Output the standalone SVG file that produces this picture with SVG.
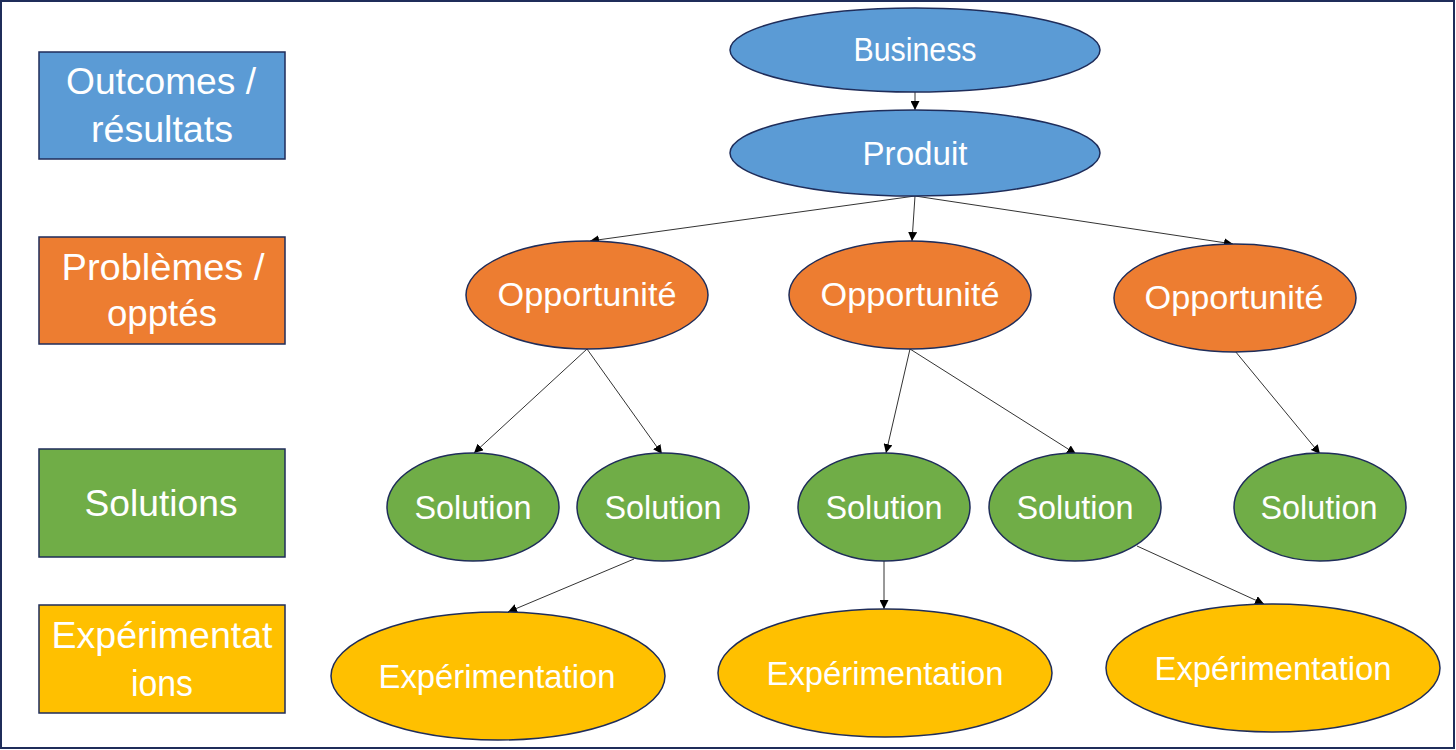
<svg xmlns="http://www.w3.org/2000/svg" width="1456" height="750" viewBox="0 0 1456 750">
<style>
.bg{fill:#fff;stroke:#1f2d5a;stroke-width:2}
.blue{fill:#5b9bd5;stroke:#1f2d5a;stroke-width:1.5}
.orange{fill:#ed7d31;stroke:#1f2d5a;stroke-width:1.5}
.green{fill:#70ad47;stroke:#1f2d5a;stroke-width:1.5}
.yellow{fill:#ffc000;stroke:#1f2d5a;stroke-width:1.5}
text{font-family:"Liberation Sans","Open Sans",sans-serif;fill:#fff;text-anchor:middle}
.lbl{font-size:36px}
.nd{font-size:33px}
.conn line{stroke:#333;stroke-width:1;marker-end:url(#arr)}
</style>
<defs>
<marker id="arr" viewBox="0 0 10 10" refX="10" refY="5" markerWidth="9" markerHeight="9" markerUnits="userSpaceOnUse" orient="auto">
<path d="M0,0 L10,5 L0,10 z" fill="#000"/>
</marker>
</defs>
<rect class="bg" x="1" y="1" width="1453" height="747"/>

<g id="label-outcomes"><rect class="blue" x="39" y="52" width="246" height="107"/>
<text class="lbl" x="161" y="94" textLength="190" lengthAdjust="spacingAndGlyphs">Outcomes /</text>
<text class="lbl" x="162" y="142" textLength="142" lengthAdjust="spacingAndGlyphs">résultats</text></g>
<g id="label-problemes"><rect class="orange" x="39" y="237" width="246" height="107"/>
<text class="lbl" x="163" y="280" textLength="203" lengthAdjust="spacingAndGlyphs">Problèmes /</text>
<text class="lbl" x="162" y="326" textLength="110" lengthAdjust="spacingAndGlyphs">opptés</text></g>
<g id="label-solutions"><rect class="green" x="39" y="449" width="246" height="108"/>
<text class="lbl" x="161" y="516" textLength="153" lengthAdjust="spacingAndGlyphs">Solutions</text></g>
<g id="label-experimentations"><rect class="yellow" x="39" y="605" width="246" height="108"/>
<text class="lbl" x="162" y="648" textLength="221" lengthAdjust="spacingAndGlyphs">Expérimentat</text>
<text class="lbl" x="162" y="696" textLength="62" lengthAdjust="spacingAndGlyphs">ions</text></g>

<g id="connectors" class="conn">
<line x1="915" y1="92" x2="915" y2="110"/>
<line x1="915" y1="196" x2="590" y2="241"/>
<line x1="915" y1="196" x2="912" y2="241"/>
<line x1="915" y1="196" x2="1233" y2="244"/>
<line x1="587" y1="349" x2="474" y2="453"/>
<line x1="587" y1="349" x2="662" y2="454"/>
<line x1="910" y1="349" x2="886" y2="453"/>
<line x1="910" y1="349" x2="1076" y2="454"/>
<line x1="1235" y1="351" x2="1320" y2="454"/>
<line x1="634" y1="559" x2="508" y2="612"/>
<line x1="884" y1="561" x2="884" y2="609"/>
<line x1="1137" y1="546" x2="1264" y2="604"/>
</g>

<g id="business"><ellipse class="blue" cx="915" cy="50" rx="185" ry="42"/>
<text class="nd" x="915" y="61" textLength="123" lengthAdjust="spacingAndGlyphs">Business</text></g>
<g id="produit"><ellipse class="blue" cx="915" cy="153" rx="185" ry="43"/>
<text class="nd" x="915" y="165" textLength="105" lengthAdjust="spacingAndGlyphs">Produit</text></g>

<g id="opp1"><ellipse class="orange" cx="587" cy="295" rx="121" ry="54"/>
<text class="nd" x="587" y="306" textLength="179" lengthAdjust="spacingAndGlyphs">Opportunité</text></g>
<g id="opp2"><ellipse class="orange" cx="910" cy="295" rx="121" ry="54"/>
<text class="nd" x="910" y="306" textLength="179" lengthAdjust="spacingAndGlyphs">Opportunité</text></g>
<g id="opp3"><ellipse class="orange" cx="1235" cy="298" rx="121" ry="54"/>
<text class="nd" x="1234" y="309" textLength="179" lengthAdjust="spacingAndGlyphs">Opportunité</text></g>

<g id="sol1"><ellipse class="green" cx="473" cy="507" rx="86" ry="54"/>
<text class="nd" x="473" y="519" textLength="117" lengthAdjust="spacingAndGlyphs">Solution</text></g>
<g id="sol2"><ellipse class="green" cx="663" cy="507" rx="86" ry="54"/>
<text class="nd" x="663" y="519" textLength="117" lengthAdjust="spacingAndGlyphs">Solution</text></g>
<g id="sol3"><ellipse class="green" cx="884" cy="507" rx="86" ry="54"/>
<text class="nd" x="884" y="519" textLength="117" lengthAdjust="spacingAndGlyphs">Solution</text></g>
<g id="sol4"><ellipse class="green" cx="1075" cy="507" rx="86" ry="54"/>
<text class="nd" x="1075" y="519" textLength="117" lengthAdjust="spacingAndGlyphs">Solution</text></g>
<g id="sol5"><ellipse class="green" cx="1320" cy="507" rx="86" ry="54"/>
<text class="nd" x="1319" y="519" textLength="117" lengthAdjust="spacingAndGlyphs">Solution</text></g>

<g id="exp1"><ellipse class="yellow" cx="498" cy="676" rx="167" ry="64"/>
<text class="nd" x="497" y="688" textLength="237" lengthAdjust="spacingAndGlyphs">Expérimentation</text></g>
<g id="exp2"><ellipse class="yellow" cx="885" cy="673" rx="167" ry="64"/>
<text class="nd" x="885" y="685" textLength="237" lengthAdjust="spacingAndGlyphs">Expérimentation</text></g>
<g id="exp3"><ellipse class="yellow" cx="1273" cy="668" rx="167" ry="64"/>
<text class="nd" x="1273" y="680" textLength="237" lengthAdjust="spacingAndGlyphs">Expérimentation</text></g>
</svg>
